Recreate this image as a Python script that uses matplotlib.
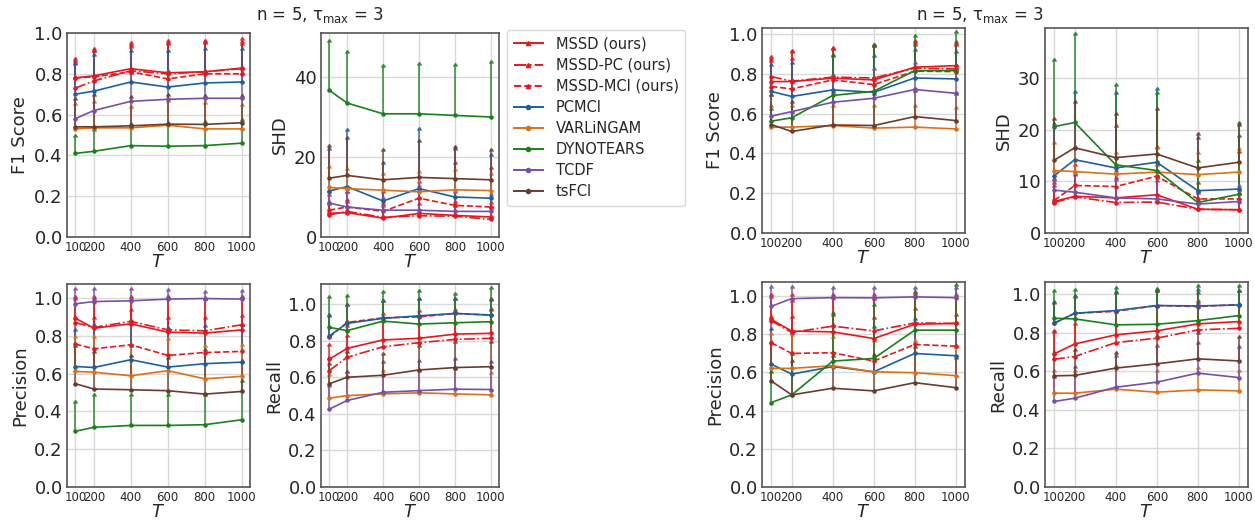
import matplotlib
matplotlib.use("Agg")
import matplotlib.pyplot as plt
from matplotlib.lines import Line2D
import numpy as np

T = [100, 200, 400, 600, 800, 1000]
METHODS = ["MSSD (ours)", "MSSD-PC (ours)", "MSSD-MCI (ours)", "PCMCI",
           "VARLiNGAM", "DYNOTEARS", "TCDF", "tsFCI"]
COLORS = ["#e3191e", "#e3191e", "#e3191e", "#1f5f9e",
          "#d9711a", "#1a801a", "#7650a8", "#6b3b2b"]
STYLES = ["-", "-.", "--", "-", "-", "-", "-", "-"]

# rows follow METHODS; *_UP = top end of the error bar
A_F1 = [[0.78, 0.79, 0.825, 0.805, 0.81, 0.828],
        [0.73, 0.765, 0.815, 0.80, 0.81, 0.825],
        [0.78, 0.785, 0.81, 0.775, 0.80, 0.80],
        [0.70, 0.715, 0.76, 0.735, 0.755, 0.76],
        [0.53, 0.535, 0.535, 0.548, 0.53, 0.53],
        [0.41, 0.42, 0.448, 0.445, 0.448, 0.46],
        [0.58, 0.62, 0.665, 0.675, 0.68, 0.68],
        [0.54, 0.54, 0.545, 0.553, 0.552, 0.56]]
A_F1_UP = [[0.87, 0.915, 0.945, 0.955, 0.955, 0.965],
           [0.86, 0.905, 0.935, 0.945, 0.95, 0.95],
           [0.85, 0.905, 0.925, 0.94, 0.945, 0.94],
           [0.845, 0.885, 0.905, 0.905, 0.915, 0.915],
           [0.645, 0.655, 0.63, 0.66, 0.65, 0.64],
           [0.49, 0.52, 0.55, 0.555, 0.56, 0.57],
           [0.78, 0.76, 0.80, 0.81, 0.81, 0.80],
           [0.67, 0.69, 0.68, 0.69, 0.685, 0.685]]

A_SHD = [[5.9, 6.1, 4.7, 5.9, 5.4, 5.0],
         [5.5, 6.4, 4.9, 5.3, 5.2, 4.4],
         [6.7, 7.5, 6.4, 9.7, 7.9, 7.5],
         [11.5, 12.6, 9.0, 12.1, 10.0, 9.7],
         [12.4, 12.1, 11.7, 11.3, 11.8, 11.6],
         [36.7, 33.5, 30.8, 30.8, 30.4, 30.0],
         [8.5, 7.5, 6.7, 6.7, 6.4, 6.4],
         [14.7, 15.4, 14.3, 14.9, 14.6, 14.3]]
A_SHD_UP = [[8.5, 9.0, 8.0, 9.5, 8.5, 8.3],
            [8.0, 8.5, 7.5, 8.0, 7.5, 7.0],
            [10.3, 10.9, 11.1, 13.4, 18.2, 17.0],
            [21.8, 26.4, 18.2, 26.8, 21.8, 20.3],
            [17.2, 16.7, 15.6, 15.9, 16.4, 15.5],
            [48.8, 45.9, 42.5, 43.1, 42.8, 43.5],
            [11.1, 10.9, 9.5, 12.4, 11.1, 10.3],
            [22.4, 24.5, 21.4, 23.7, 22.3, 21.4]]

A_PREC = [[0.894, 0.841, 0.864, 0.82, 0.815, 0.832],
          [0.871, 0.845, 0.877, 0.832, 0.827, 0.859],
          [0.757, 0.732, 0.753, 0.697, 0.712, 0.718],
          [0.638, 0.633, 0.674, 0.635, 0.653, 0.661],
          [0.612, 0.608, 0.589, 0.616, 0.573, 0.586],
          [0.295, 0.316, 0.326, 0.326, 0.33, 0.356],
          [0.97, 0.982, 0.986, 0.995, 0.998, 0.995],
          [0.547, 0.519, 0.515, 0.51, 0.492, 0.506]]
A_PREC_UP = [[1.0, 1.0, 1.0, 1.0, 0.995, 1.0],
             [0.99, 0.99, 0.99, 1.0, 0.99, 1.0],
             [0.89, 0.89, 0.93, 0.89, 0.89, 0.90],
             [0.824, 0.85, 0.859, 0.838, 0.845, 0.854],
             [0.79, 0.79, 0.739, 0.78, 0.739, 0.748],
             [0.444, 0.483, 0.483, 0.48, 0.483, 0.554],
             [1.044, 1.044, 1.044, 1.037, 1.026, 1.032],
             [0.741, 0.709, 0.688, 0.679, 0.718, 0.661]]

A_REC = [[0.698, 0.758, 0.804, 0.813, 0.836, 0.84],
         [0.636, 0.709, 0.767, 0.789, 0.807, 0.813],
         [0.818, 0.90, 0.925, 0.93, 0.949, 0.94],
         [0.825, 0.895, 0.922, 0.936, 0.949, 0.94],
         [0.485, 0.50, 0.509, 0.515, 0.509, 0.504],
         [0.873, 0.855, 0.907, 0.891, 0.898, 0.904],
         [0.425, 0.473, 0.518, 0.527, 0.535, 0.533],
         [0.564, 0.60, 0.611, 0.64, 0.653, 0.658]]
A_REC_UP = [[0.77, 0.876, 0.94, 0.958, 0.962, 0.967],
            [0.70, 0.82, 0.90, 0.93, 0.95, 0.96],
            [0.93, 0.99, 1.01, 1.02, 1.02, 1.02],
            [0.935, 0.989, 1.013, 1.022, 1.025, 1.018],
            [0.607, 0.622, 0.63, 0.63, 0.64, 0.62],
            [1.031, 1.04, 1.062, 1.064, 1.049, 1.08],
            [0.549, 0.625, 0.676, 0.685, 0.695, 0.68],
            [0.667, 0.731, 0.722, 0.767, 0.785, 0.785]]

B_F1 = [[0.761, 0.761, 0.778, 0.769, 0.833, 0.841],
        [0.786, 0.763, 0.783, 0.779, 0.828, 0.824],
        [0.736, 0.724, 0.769, 0.746, 0.813, 0.811],
        [0.711, 0.686, 0.719, 0.707, 0.779, 0.774],
        [0.532, 0.532, 0.54, 0.527, 0.532, 0.523],
        [0.562, 0.579, 0.691, 0.712, 0.816, 0.816],
        [0.587, 0.61, 0.657, 0.677, 0.721, 0.702],
        [0.545, 0.51, 0.543, 0.54, 0.585, 0.565]]
B_F1_UP = [[0.88, 0.908, 0.925, 0.941, 0.958, 0.953],
           [0.87, 0.905, 0.92, 0.935, 0.95, 0.945],
           [0.86, 0.87, 0.92, 0.94, 0.94, 0.94],
           [0.841, 0.849, 0.886, 0.886, 0.913, 0.905],
           [0.635, 0.635, 0.635, 0.635, 0.635, 0.624],
           [0.62, 0.757, 0.891, 0.933, 0.983, 1.005],
           [0.69, 0.766, 0.79, 0.82, 0.85, 0.84],
           [0.69, 0.652, 0.702, 0.694, 0.707, 0.694]]

B_SHD = [[6.1, 7.1, 6.8, 7.4, 4.6, 4.5],
         [5.9, 7.0, 5.9, 6.0, 4.6, 4.5],
         [6.3, 9.2, 9.0, 11.0, 6.6, 6.6],
         [11.1, 14.2, 12.6, 13.7, 8.2, 8.5],
         [12.1, 11.9, 11.4, 11.8, 11.3, 11.8],
         [20.6, 21.4, 13.2, 12.1, 5.9, 7.5],
         [8.3, 7.9, 6.8, 6.6, 5.6, 6.1],
         [14.1, 16.5, 14.6, 15.3, 12.6, 13.7]]
B_SHD_UP = [[9.4, 13.0, 11.9, 12.9, 7.9, 8.1],
            [9.0, 11.3, 10.5, 10.5, 7.5, 7.5],
            [10.0, 16.5, 20.6, 16.5, 9.4, 15.5],
            [21.0, 27.2, 26.9, 27.6, 18.2, 18.5],
            [17.2, 16.5, 15.3, 16.3, 15.3, 16.1],
            [33.4, 38.4, 28.4, 26.9, 13.7, 21.2],
            [10.3, 11.1, 10.0, 9.9, 7.7, 9.0],
            [21.8, 25.2, 22.8, 23.9, 19.0, 20.8]]

B_PREC = [[0.877, 0.816, 0.812, 0.777, 0.852, 0.856],
          [0.87, 0.809, 0.842, 0.817, 0.859, 0.856],
          [0.755, 0.699, 0.703, 0.659, 0.746, 0.737],
          [0.643, 0.591, 0.63, 0.603, 0.699, 0.687],
          [0.621, 0.621, 0.635, 0.603, 0.598, 0.583],
          [0.442, 0.482, 0.659, 0.673, 0.821, 0.821],
          [0.946, 0.986, 0.991, 0.99, 0.995, 0.991],
          [0.555, 0.482, 0.517, 0.503, 0.546, 0.52]]
B_PREC_UP = [[1.0, 1.0, 1.0, 1.0, 1.0, 1.0],
             [0.99, 0.97, 0.99, 0.98, 1.01, 0.99],
             [0.885, 0.885, 0.894, 0.877, 0.925, 0.894],
             [0.821, 0.803, 0.842, 0.83, 0.873, 0.852],
             [0.795, 0.79, 0.78, 0.76, 0.76, 0.73],
             [0.595, 0.69, 0.904, 0.946, 1.016, 1.05],
             [1.043, 1.043, 1.035, 1.035, 1.035, 1.035],
             [0.755, 0.656, 0.678, 0.685, 0.725, 0.67]]

B_REC = [[0.69, 0.741, 0.788, 0.809, 0.845, 0.857],
         [0.662, 0.676, 0.748, 0.771, 0.814, 0.822],
         [0.85, 0.90, 0.91, 0.94, 0.935, 0.945],
         [0.848, 0.90, 0.914, 0.94, 0.938, 0.943],
         [0.486, 0.486, 0.507, 0.491, 0.503, 0.498],
         [0.874, 0.871, 0.84, 0.843, 0.862, 0.888],
         [0.443, 0.46, 0.517, 0.543, 0.59, 0.567],
         [0.576, 0.578, 0.616, 0.638, 0.664, 0.653]]
B_REC_UP = [[0.805, 0.84, 0.909, 1.009, 0.957, 0.943],
            [0.80, 0.87, 0.90, 0.93, 0.95, 0.94],
            [0.95, 0.98, 1.0, 1.01, 1.0, 1.01],
            [0.952, 0.986, 1.003, 1.017, 1.017, 1.012],
            [0.598, 0.598, 0.62, 0.598, 0.612, 0.598],
            [1.012, 1.017, 1.024, 1.021, 1.038, 1.034],
            [0.567, 0.616, 0.672, 0.724, 0.74, 0.719],
            [0.69, 0.702, 0.69, 0.776, 0.791, 0.771]]

W, H = 1255, 521
TXT = "#262626"


def rect(x0, y0, x1, y1):
    # pixel box (top-left origin) -> figure fraction
    return [x0 / W, 1 - y1 / H, (x1 - x0) / W, (y1 - y0) / H]


def panel(fig, box, mean, up, ylabel, ylim, yticks):
    ax = fig.add_axes(rect(*box))
    ax.set_axisbelow(True)
    ax.grid(True, color="#d9d9d9", lw=1.0)
    for i, name in enumerate(METHODS):
        m = np.array(mean[i])
        e = np.array(up[i]) - m
        c = ax.errorbar(T, m, yerr=e, lolims=True, fmt=STYLES[i], color=COLORS[i],
                        lw=1.2, marker="o", markersize=2.2, elinewidth=1.4,
                        capsize=1.5, label=name)
        for col in c[2]:
            col.set_alpha(0.7)
        for cap in c[1]:
            cap.set_alpha(0.8)
    ax.set_xlim(55, 1045)
    ax.set_ylim(*ylim)
    ax.set_xticks(T)
    ax.set_xticklabels([str(t) for t in T], fontsize=8.5, color=TXT)
    ax.set_yticks(yticks)
    ax.set_yticklabels([("%g" % v if max(yticks) > 2 else "%.1f" % v) for v in yticks],
                       fontsize=13, color=TXT)
    ax.tick_params(length=0, pad=3)
    ax.set_xlabel("$T$", fontsize=13, color=TXT, labelpad=-1)
    ax.set_ylabel(ylabel, fontsize=13, color=TXT, labelpad=4)
    for s in ax.spines.values():
        s.set_color("#555555")
        s.set_linewidth(1.2)
    return ax


fig = plt.figure(figsize=(W / 100, H / 100), dpi=100)
frac = [0, 0.2, 0.4, 0.6, 0.8, 1.0]

panel(fig, (67, 33, 250, 237), A_F1, A_F1_UP, "F1 Score", (0, 1.0), frac)
panel(fig, (321, 33, 499, 237), A_SHD, A_SHD_UP, "SHD", (0, 51), [0, 20, 40])
panel(fig, (67, 284, 250, 487), A_PREC, A_PREC_UP, "Precision", (0, 1.075), frac)
panel(fig, (321, 284, 499, 487), A_REC, A_REC_UP, "Recall", (0, 1.11), frac)

panel(fig, (762, 28, 965, 233), B_F1, B_F1_UP, "F1 Score", (0, 1.03), frac)
panel(fig, (1045, 28, 1248, 233), B_SHD, B_SHD_UP, "SHD", (0, 39.7), [0, 10, 20, 30])
panel(fig, (762, 282, 965, 487), B_PREC, B_PREC_UP, "Precision", (0, 1.073), frac)
panel(fig, (1045, 282, 1248, 487), B_REC, B_REC_UP, "Recall", (0, 1.062), frac)

title = "n = 5, τ$_\\mathregular{max}$ = 3"
fig.text(320 / W, 1 - 15 / H, title, ha="center", va="center", fontsize=12, color=TXT)
fig.text(980 / W, 1 - 15 / H, title, ha="center", va="center", fontsize=12, color=TXT)

handles = [Line2D([], [], color=COLORS[i], ls=STYLES[i], lw=1.4,
                  marker="^" if i < 3 else "o", markersize=3)
           for i in range(len(METHODS))]
leg = fig.legend(handles=handles, labels=METHODS, loc="upper left",
                 bbox_to_anchor=(507 / W, 1 - 30 / H), borderaxespad=0,
                 fontsize=10.5, frameon=True, handlelength=2.0,
                 labelspacing=0.42, borderpad=0.45, handletextpad=0.9)
leg.get_frame().set_edgecolor("#d0d0d0")
for t in leg.get_texts():
    t.set_color(TXT)

fig.savefig("out.png", dpi=100)
